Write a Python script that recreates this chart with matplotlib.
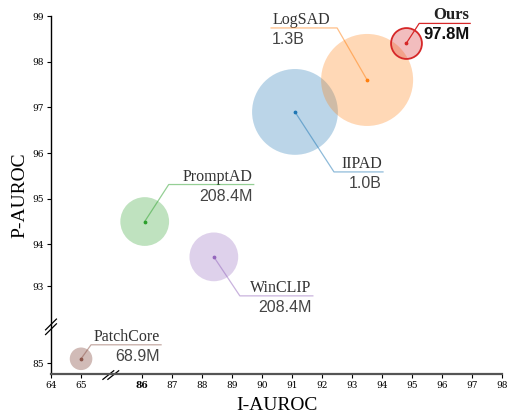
import numpy as np
import matplotlib
matplotlib.use('Agg')
import matplotlib.pyplot as plt

# data
methods = ['PatchCore', 'PromptAD', 'WinCLIP', 'IIPAD', 'LogSAD', 'Ours']
i_auroc = [65.0, 86.1, 88.4, 91.1, 93.5, 94.8]
p_auroc = [85.1, 94.5, 93.7, 96.9, 97.6, 98.4]
params_m = [68.9, 208.4, 208.4, 1000, 1300, 97.8]

x_ticks = [64, 65, 86, 87, 88, 89, 90, 91, 92, 93, 94, 95, 96, 97, 98]
y_ticks = [85, 93, 94, 95, 96, 97, 98, 99]

colors = ['tab:brown', 'tab:green', 'tab:purple', 'tab:blue', 'tab:orange', 'tab:red']
# elbow offset (px) from the dot, and horizontal run length (px)
leaders = [(10, 14, 70), (24, 37, 85), (26, -39, 73), (39, -60, 49), (-30, 52, -66), (13, 20, 51)]

# broken axes done with piecewise-linear scales
xk_real = [64, 66, 86, 98]
xk_vis = [51, 111.1, 141.7, 502.3]
yk_real = [84, 86, 93, 94, 100]
yk_vis = [6.0, 97.4, 129.0, 170.7, 444.7]


def fx(v):
    return np.interp(v, xk_real, xk_vis)


def fx_inv(v):
    return np.interp(v, xk_vis, xk_real)


def fy(v):
    return np.interp(v, yk_real, yk_vis)


def fy_inv(v):
    return np.interp(v, yk_vis, yk_real)


def size_label(p):
    return f'{p / 1000:.1f}B' if p >= 1000 else f'{p}M'


fig = plt.figure(figsize=(5.1, 4.15), dpi=100)
ax = fig.add_axes([0.1, 0.098, 0.885, 0.8634])
ax.set_xscale('function', functions=(fx, fx_inv))
ax.set_yscale('function', functions=(fy, fy_inv))
ax.set_xlim(64, 98)
ax.set_ylim(84.76, 99)

for i, m in enumerate(methods):
    r = 27.2 * np.log10(params_m[i]) - 38.7  # bubble radius in px
    s = (2 * r * 0.72) ** 2
    c = matplotlib.colors.to_rgb(colors[i])
    a = 0.4 if m == 'PatchCore' else 0.3
    if m == 'Ours':
        ax.scatter(i_auroc[i], p_auroc[i], s=s, facecolor=(*c, a), edgecolor='#d62728',
                   linewidth=1.3, zorder=3)
    else:
        ax.scatter(i_auroc[i], p_auroc[i], s=s, facecolor=(*c, a), edgecolor='none', zorder=2)
    ax.scatter(i_auroc[i], p_auroc[i], s=3, color=c, zorder=4)

fig.canvas.draw()
inv = ax.transData.inverted()
for i, m in enumerate(methods):
    dx, dy, L = leaders[i]
    px, py = ax.transData.transform((i_auroc[i], p_auroc[i]))
    pts = inv.transform([(px, py), (px + dx, py + dy), (px + dx + L, py + dy)])
    c = matplotlib.colors.to_rgb(colors[i])
    if m == 'Ours':
        lc, la = '#d62728', 1.0
    else:
        lc, la = c, 0.5
    ax.plot(pts[:, 0], pts[:, 1], color=lc, alpha=la, lw=0.9, zorder=5)
    ha = 'left' if L < 0 else 'right'
    tx = dx + L + (1 if L < 0 else -1)
    if m == 'Ours':
        ax.annotate(m, (i_auroc[i], p_auroc[i]), xytext=(tx, dy + 4), textcoords='offset pixels',
                    ha=ha, va='baseline', family='Liberation Serif', fontsize=12,
                    fontweight='bold', color='#222222')
        ax.annotate(size_label(params_m[i]), (i_auroc[i], p_auroc[i]), xytext=(tx, dy - 4),
                    textcoords='offset pixels', ha=ha, va='top', family='Liberation Sans',
                    fontsize=12, fontweight='bold', color='#111111')
    else:
        ax.annotate(m, (i_auroc[i], p_auroc[i]), xytext=(tx, dy + 4), textcoords='offset pixels',
                    ha=ha, va='baseline', family='Liberation Serif', fontsize=11.5, color='#333333')
        ax.annotate(size_label(params_m[i]), (i_auroc[i], p_auroc[i]), xytext=(tx, dy - 4),
                    textcoords='offset pixels', ha=ha, va='top', family='Liberation Sans',
                    fontsize=11.5, color='#444444')

ax.set_xticks(x_ticks)
ax.set_xticklabels([str(t) for t in x_ticks])
ax.set_yticks(y_ticks)
ax.set_yticklabels([str(t) for t in y_ticks])
ax.minorticks_off()
for lab in ax.get_xticklabels() + ax.get_yticklabels():
    lab.set_family('DejaVu Serif')
    lab.set_fontsize(6.5)
ax.get_xticklabels()[2].set_fontweight('bold')
ax.tick_params(length=3, width=0.8, pad=2)

ax.spines['top'].set_visible(False)
ax.spines['right'].set_visible(False)
ax.spines['left'].set_linewidth(1.0)
ax.spines['bottom'].set_linewidth(1.6)
ax.spines['bottom'].set_color('#555555')

ax.set_xlabel('I-AUROC', family='Liberation Serif', fontsize=14, labelpad=5)
ax.set_ylabel('P-AUROC', family='Liberation Serif', fontsize=14, labelpad=3)

# break marks
d = 0.012
for off in (0, 0.011):
    ax.plot([0.127 + off - d, 0.127 + off + d], [-0.014, 0.01], transform=ax.transAxes,
            color='k', lw=0.9, clip_on=False)
    ax.plot([-0.012, 0.012], [0.126 + off * 1.2 - 0.015, 0.126 + off * 1.2 + 0.015],
            transform=ax.transAxes, color='k', lw=0.9, clip_on=False)

fig.savefig('out.png', dpi=100)
